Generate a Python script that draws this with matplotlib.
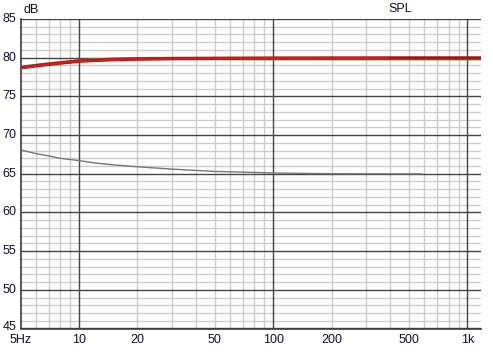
import matplotlib
matplotlib.use("Agg")
import matplotlib.pyplot as plt
import matplotlib.transforms as mtransforms
import numpy as np

# Data
freq_red = [5, 6, 7, 8, 10, 12, 15, 20, 30, 50, 100, 200, 500, 1170]
spl_red = [78.7, 78.95, 79.15, 79.3, 79.55, 79.65, 79.75, 79.82, 79.88, 79.92, 79.95, 79.96, 79.97, 79.97]
freq_bright = [5, 6, 7, 8, 10, 12, 15, 20, 30, 50, 100, 200, 390]
spl_bright = [78.7, 78.95, 79.15, 79.3, 79.55, 79.65, 79.75, 79.82, 79.88, 79.92, 79.95, 79.96, 79.97]
freq_green = [5, 6, 7, 8, 10, 12, 15, 20, 30, 50, 100, 200, 500, 1170]
spl_green = [78.75, 79.0, 79.2, 79.35, 79.6, 79.72, 79.82, 79.88, 79.9, 79.88, 79.86, 79.86, 79.86, 79.86]
freq_grey = [5, 6, 7, 8, 10, 12, 15, 20, 30, 50, 100, 200, 580]
spl_grey = [68.1, 67.6, 67.3, 67.0, 66.7, 66.4, 66.15, 65.9, 65.6, 65.3, 65.1, 65.0, 64.98]

x_ticks = [5, 10, 20, 50, 100, 200, 500, 1000]
x_labels = ["5Hz", "10", "20", "50", "100", "200", "500", "1k"]
y_ticks = [45, 50, 55, 60, 65, 70, 75, 80, 85]

W, H = 493, 355
fig = plt.figure(figsize=(W / 100, H / 100), dpi=100)
fig.patch.set_facecolor("white")
left, right, top, bottom = 20.5, 481, 19, 328.5
ax = fig.add_axes([left / W, 1 - bottom / H, (right - left) / W, (bottom - top) / H])
ax.set_xscale("log")
ax.set_xlim(5, 1175)
ax.set_ylim(45, 85)

# grid
minor_x = [m * d for d in [1, 10, 100, 1000] for m in range(2, 10) if 5 < m * d < 1175]
for f in minor_x:
    ax.axvline(f, color="#cccccc", lw=1, zorder=0)
for db in range(45, 86):
    if db % 5:
        ax.axhline(db, color="#cccccc", lw=1, zorder=0)
for db in y_ticks:
    ax.axhline(db, color="#454545", lw=1, zorder=1)
for f in [10, 100, 1000]:
    ax.axvline(f, color="#454545", lw=1, zorder=1)

ax.plot(freq_grey, spl_grey, color="#767676", lw=1.0, zorder=3)
ax.plot(freq_green, spl_green, color="#7a8a3a", lw=2.4, zorder=3)
ax.plot(freq_red, spl_red, color="#a81414", lw=2.4, zorder=4)
ax.plot(freq_bright, spl_bright, color="#e01818", lw=1.3, zorder=5)

for s in ["top", "right"]:
    ax.spines[s].set_visible(False)
for s in ["left", "bottom"]:
    ax.spines[s].set_color("#3c3c3c")
    ax.spines[s].set_linewidth(1.2)

ax.set_xticks(x_ticks)
ax.set_xticklabels(x_labels)
ax.xaxis.set_minor_locator(matplotlib.ticker.NullLocator())
ax.set_yticks(y_ticks)
ax.tick_params(length=0, labelsize=9, colors="#101030")
ax.tick_params(axis="y", pad=3)
ax.tick_params(axis="x", pad=4)
for lab in ax.get_xticklabels() + ax.get_yticklabels():
    lab.set_family("Liberation Sans")

for lab, v in zip(ax.get_yticklabels(), y_ticks):
    dy = 1.5 if v != 45 else 3.0
    lab.set_transform(lab.get_transform() + mtransforms.ScaledTranslation(0, dy / 100, fig.dpi_scale_trans))

fig.text(23 / W, 1 - 10 / H, "dB", fontsize=9, family="Liberation Sans", color="#101030", va="center", ha="left")
fig.text(400 / W, 1 - 9 / H, "SPL", fontsize=9, family="Liberation Sans", color="#101030", va="center", ha="center")

fig.savefig("out.png", dpi=100)
